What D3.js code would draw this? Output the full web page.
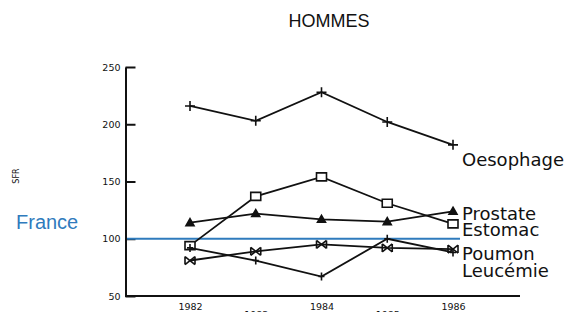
<!DOCTYPE html>
<html>
<head>
<meta charset="utf-8">
<script src="https://cdn.jsdelivr.net/npm/d3@7"></script>
<style>
  html, body { margin: 0; padding: 0; background: #ffffff; }
  svg { display: block; }
</style>
</head>
<body>
<div class="chart"></div>
<script>
/* SFR par année, hommes */
var YEARS = [1982, 1983, 1984, 1985, 1986];
var Y_TICKS = [50, 100, 150, 200, 250];
var FRANCE_LEVEL = 100;

var OESOPHAGE = [216, 203, 228, 202, 182];
var ESTOMAC = [94, 137, 154, 131, 113];
var PROSTATE = [114, 122, 117, 115, 124];
var POUMON = [81, 89, 95, 92, 91];
var LEUCEMIE = [92, 81, 67, 100, 88];

var SERIES_NAMES = ["Oesophage", "Prostate", "Estomac", "Poumon", "Leucémie"];
var SERIES_VALUES = [OESOPHAGE, PROSTATE, ESTOMAC, POUMON, LEUCEMIE];
var SERIES_MARKERS = ["plus", "triangle", "square", "bowtie", "tick"];

var WIDTH = 575;
var HEIGHT = 312;

var svg = d3.select("div.chart")
  .append("svg")
  .attr("width", WIDTH)
  .attr("height", HEIGHT);

var x = d3.scaleLinear().domain([1982, 1986]).range([190, 453]);
var y = d3.scaleLinear().domain([50, 250]).range([296, 67]);

/* Title */
svg.append("text")
  .attr("x", 329)
  .attr("y", 27)
  .attr("text-anchor", "middle")
  .attr("font-family", "Liberation Sans, Arial, sans-serif")
  .attr("font-size", 18)
  .attr("fill", "#111")
  .text("HOMMES");

/* Y axis: ticks stick out to the right */
var yAxis = d3.axisLeft(y)
  .tickValues(Y_TICKS)
  .tickSizeInner(-10)
  .tickSizeOuter(0)
  .tickPadding(5);

var gy = svg.append("g")
  .attr("transform", "translate(125.5,0)")
  .call(yAxis);
gy.select(".domain").attr("stroke", "#111").attr("stroke-width", 2);
gy.selectAll(".tick line").attr("stroke", "#111").attr("stroke-width", 2);
gy.selectAll(".tick text")
  .attr("font-family", "DejaVu Sans, sans-serif")
  .attr("font-size", 9.5)
  .attr("fill", "#111");

/* X axis line and staggered year labels */
var xAxis = d3.axisBottom(x)
  .tickValues(YEARS)
  .tickFormat(d3.format("d"))
  .tickSize(0)
  .tickPadding(7);

var gx = svg.append("g")
  .attr("transform", "translate(0," + y(50) + ")")
  .call(xAxis);
gx.select(".domain")
  .attr("d", "M125,0H520")
  .attr("stroke", "#111")
  .attr("stroke-width", 2);
gx.selectAll(".tick text")
  .attr("font-family", "DejaVu Sans, sans-serif")
  .attr("font-size", 9.5)
  .attr("fill", "#111")
  .attr("dy", function computeDy(d, i) {
    return i % 2 === 1 ? "1.6em" : "0.71em";
  });

/* SFR label */
svg.append("text")
  .attr("transform", "translate(19,176) rotate(-90)")
  .attr("text-anchor", "middle")
  .attr("font-family", "DejaVu Sans, sans-serif")
  .attr("font-size", 8)
  .attr("fill", "#111")
  .text("SFR");

/* France reference */
svg.append("line")
  .attr("x1", 127)
  .attr("x2", 460)
  .attr("y1", y(FRANCE_LEVEL))
  .attr("y2", y(FRANCE_LEVEL))
  .attr("stroke", "#2f7bbd")
  .attr("stroke-width", 1.8);

svg.append("text")
  .attr("x", 16)
  .attr("y", 229)
  .attr("font-family", "Liberation Sans, Arial, sans-serif")
  .attr("font-size", 20)
  .attr("fill", "#2f7bbd")
  .text("France");

/* Markers */
function markerPath(kind) {
  switch (kind) {
    case "plus": return "M-5,0H5M0,-5V5";
    case "tick": return "M-3,0H3M0,-4V4";
    case "square": return "M-5,-4H5V4H-5Z";
    case "triangle": return "M0,-4L4,3H-4Z";
    case "bowtie": return "M-5,-4L5,4M-5,4L5,-4M-5,-4V4M5,-4V4";
    default: return "";
  }
}

var line = d3.line()
  .x(function getX(d, i) { return x(YEARS[i]); })
  .y(function getY(d) { return y(d); });

SERIES_VALUES.forEach(function forEachSeries(values, s) {
  var g = svg.append("g");
  g.append("path")
    .attr("d", line(values))
    .attr("fill", "none")
    .attr("stroke", "#111")
    .attr("stroke-width", 1.8);

  var kind = SERIES_MARKERS[s];
  g.selectAll("path.marker")
    .data(values)
    .enter()
    .append("path")
    .attr("class", "marker")
    .attr("transform", function place(d, i) {
      return "translate(" + x(YEARS[i]) + "," + y(d) + ")";
    })
    .attr("d", markerPath(kind))
    .attr("fill", kind === "triangle" ? "#111" : (kind === "square" ? "#fff" : "none"))
    .attr("stroke", "#111")
    .attr("stroke-width", 1.6);
});

/* Series labels at the right end */
var LABEL_BASELINES = [166, 220, 236, 260, 277];
SERIES_NAMES.forEach(function forEachName(name, s) {
  svg.append("text")
    .attr("x", 462)
    .attr("y", LABEL_BASELINES[s])
    .attr("font-family", "DejaVu Sans, sans-serif")
    .attr("font-size", 18)
    .attr("fill", "#111")
    .text(name);
});
</script>
</body>
</html>
